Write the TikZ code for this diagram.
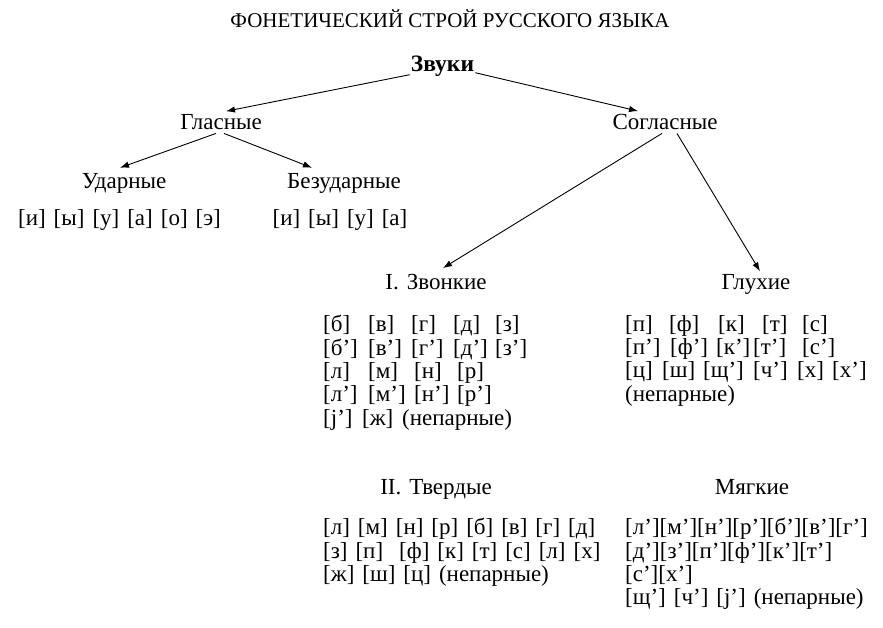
\documentclass[tikz,border=0pt]{standalone}
\usepackage{fontspec}
\setmainfont{Liberation Serif}
\usepackage{tikz}
\usetikzlibrary{arrows.meta,calc,positioning}
\newcommand{\sndbox}[2]{\makebox[#1pt][l]{#2}}
\newcommand{\bodyfont}{\fontsize{23}{23.4}\selectfont\spaceskip=8pt plus 1pt}
\tikzset{
  lbl/.style={inner sep=1pt, anchor=base, font=\bodyfont},
  sndlist/.style={inner sep=0pt, anchor=north west, align=left, font=\bodyfont},
  arr/.style={-{Latex[length=9pt,width=6.5pt]}, line width=0.9pt}
}

\begin{document}
\begin{tikzpicture}[x=1pt, y=-1pt]
  \useasboundingbox (0,0) rectangle (883,627);
  \node[inner sep=0pt, anchor=base, font=\fontsize{21}{22}\selectfont] (title) at (450,27) {ФОНЕТИЧЕСКИЙ СТРОЙ РУССКОГО ЯЗЫКА};
  \node[lbl, font=\fontsize{23.5}{24}\selectfont\bfseries] (zvuki) at (442.5,71.7) {Звуки};
  \node[lbl] (glas) at (221,129.5) {Гласные};
  \node[lbl] (sogl) at (665,129.5) {Согласные};
  \node[lbl] (udar) at (124,188) {Ударные};
  \node[lbl] (bezud) at (344,188) {Безударные};
  \node[lbl] (vudar) at (119.5,225) {[и] [ы] [у] [а] [о] [э]};
  \node[lbl] (vbezud) at (340,225) {[и] [ы] [у] [а]};
  \node[lbl] (zvon) at (436,289.5) {I. Звонкие};
  \node[lbl] (gluh) at (756,289.5) {Глухие};
  \node[lbl] (tverd) at (436,494.5) {II. Твердые};
  \node[lbl] (myagk) at (752,494.5) {Мягкие};
  \node[sndlist] (zvonlist) at (323,315) {%
    \sndbox{45}{[б]}\sndbox{43}{[в]}\sndbox{42}{[г]}\sndbox{42}{[д]}[з]\\
    \sndbox{45}{[б’]}\sndbox{43}{[в’]}\sndbox{42}{[г’]}\sndbox{42}{[д’]}[з’]\\
    \sndbox{45}{[л]}\sndbox{46}{[м]}\sndbox{43}{[н]}[р]\\
    \sndbox{45}{[л’]}\sndbox{46}{[м’]}\sndbox{43}{[н’]}[р’]\\
    \sndbox{39}{[j’]}\sndbox{40}{[ж]}(непарные)};
  \node[sndlist] (gluhlist) at (625,315) {%
    \sndbox{44}{[п]}\sndbox{49}{[ф]}\sndbox{44}{[к]}\sndbox{40}{[т]}[с]\\
    \sndbox{45}{[п’]}\sndbox{46}{[ф’]}\sndbox{37}{[к’]}\sndbox{49}{[т’]}[с’]\\
    \sndbox{37}{[ц]}\sndbox{41}{[ш]}\sndbox{50}{[щ’]}\sndbox{44}{[ч’]}\sndbox{35}{[х]}[х’]\\
    (непарные)};
  \node[sndlist] (tverdlist) at (323,518) {%
    {}[л] [м] [н] [р] [б] [в] [г] [д]\\
    {}[з] [п] \ [ф] [к] [т] [с] [л] [х]\\
    {}[ж] [ш] [ц] (непарные)};
  \node[sndlist] (myagklist) at (625,518) {%
    {}[л’][м’][н’][р’][б’][в’][г’]\\
    {}[д’][з’][п’][ф’][к’][т’]\\
    {}[с’][х’]\\
    {}[щ’] [ч’] [j’] (непарные)};
  \draw[arr] ([yshift=-3pt]zvuki.base west) -- ([xshift=5pt,yshift=2pt]glas.north);
  \draw[arr] ([yshift=-1pt]zvuki.base east) -- ([xshift=-27pt,yshift=2pt]sogl.north);
  \draw[arr] ([xshift=-5pt,yshift=-2.5pt]glas.south) -- ([xshift=-4pt,yshift=4pt]udar.north);
  \draw[arr] ([xshift=3pt,yshift=-2.5pt]glas.south) -- ([xshift=-32pt,yshift=4pt]bezud.north);
  \draw[arr] ([xshift=-3pt,yshift=-2.5pt]sogl.south) -- ([xshift=7pt,yshift=5pt]zvon.north);
  \draw[arr] ([xshift=12pt,yshift=-2.5pt]sogl.south) -- ([xshift=4pt,yshift=2pt]gluh.north);
\end{tikzpicture}
\end{document}
